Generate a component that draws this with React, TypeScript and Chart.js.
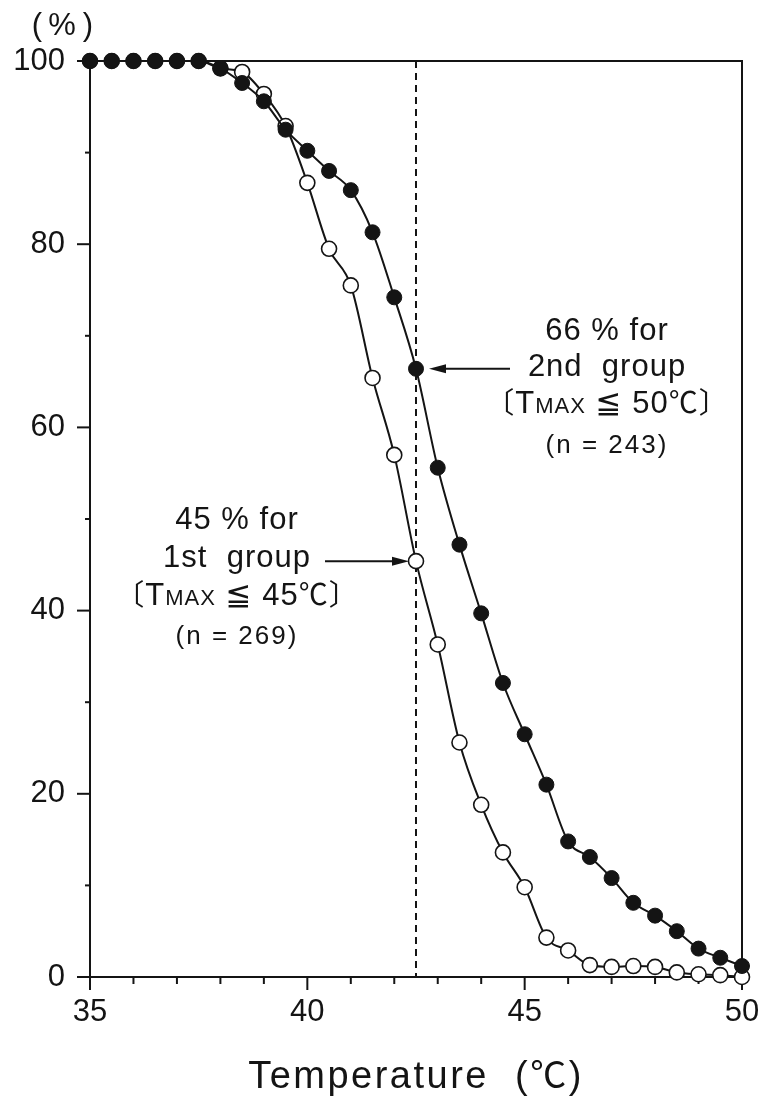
import { useEffect, useRef } from 'react';
import { Chart, registerables } from 'chart.js';

Chart.register(...registerables);

// ---- data ----
const temperatures = [
  35, 35.5, 36, 36.5, 37, 37.5, 38, 38.5, 39, 39.5, 40, 40.5, 41, 41.5, 42, 42.5,
  43, 43.5, 44, 44.5, 45, 45.5, 46, 46.5, 47, 47.5, 48, 48.5, 49, 49.5, 50,
];
const secondGroup = [
  100, 100, 100, 100, 100, 100, 99.2, 97.6, 95.6, 92.5, 90.2, 88.0, 85.9, 81.3, 74.2, 66.4,
  55.6, 47.2, 39.7, 32.1, 26.5, 21.0, 14.8, 13.1, 10.8, 8.1, 6.7, 5.0, 3.1, 2.1, 1.2,
];
const firstGroup = [
  100, 100, 100, 100, 100, 100, 99.2, 98.8, 96.4, 92.9, 86.7, 79.5, 75.5, 65.4, 57.0, 45.4,
  36.3, 25.6, 18.8, 13.6, 9.8, 4.3, 2.9, 1.3, 1.1, 1.2, 1.1, 0.5, 0.3, 0.2, 0.0,
];
const xTickLabels = ['35', '40', '45', '50'];
const yTickLabels = ['0', '20', '40', '60', '80', '100'];
const cutoffTemp = 42.5;
const secondAtCutoff = 66.4;
const firstAtCutoff = 45.4;

const FONT = '"Liberation Sans", "DejaVu Sans", "Noto Sans CJK JP", sans-serif';
const CJK = '"Noto Sans CJK JP", "Liberation Sans", sans-serif';
const INK = '#141414';

type Seg = { t: string; size: number; fam?: string };

function drawSegs(ctx: CanvasRenderingContext2D, segs: Seg[], cx: number, baseline: number, spacing = 0) {
  (ctx as any).letterSpacing = `${spacing}px`;
  let total = 0;
  const widths: number[] = [];
  for (const s of segs) {
    ctx.font = `${s.size}px ${s.fam || FONT}`;
    const w = ctx.measureText(s.t).width;
    widths.push(w);
    total += w;
  }
  let xp = cx - total / 2;
  ctx.textAlign = 'left';
  ctx.textBaseline = 'alphabetic';
  segs.forEach((s, i) => {
    ctx.font = `${s.size}px ${s.fam || FONT}`;
    ctx.fillText(s.t, xp, baseline);
    xp += widths[i];
  });
  (ctx as any).letterSpacing = '0px';
}

function arrow(ctx: CanvasRenderingContext2D, x1: number, y1: number, x2: number, y2: number) {
  const dir = Math.sign(x2 - x1);
  ctx.beginPath();
  ctx.moveTo(x1, y1);
  ctx.lineTo(x2 - dir * 10, y2);
  ctx.stroke();
  ctx.beginPath();
  ctx.moveTo(x2, y2);
  ctx.lineTo(x2 - dir * 17, y2 - 4.5);
  ctx.lineTo(x2 - dir * 17, y2 + 4.5);
  ctx.closePath();
  ctx.fill();
}

const decor = {
  id: 'decor',
  beforeDatasetsDraw(chart: any) {
    const { ctx, chartArea: a, scales } = chart;
    const x = scales.x;
    const y = scales.y;
    ctx.save();
    ctx.strokeStyle = INK;
    ctx.lineWidth = 2;
    // dashed cut-off line
    const dx = x.getPixelForValue(cutoffTemp);
    ctx.setLineDash([7, 5]);
    ctx.beginPath();
    ctx.moveTo(dx, a.top);
    ctx.lineTo(dx, a.bottom);
    ctx.stroke();
    ctx.setLineDash([]);
    // frame
    ctx.strokeRect(a.left, a.top, a.right - a.left, a.bottom - a.top);
    // x ticks
    for (const t of x.ticks) {
      const px = x.getPixelForValue(t.value);
      const major = xTickLabels.includes(String(t.value));
      ctx.beginPath();
      ctx.moveTo(px, a.bottom);
      ctx.lineTo(px, a.bottom + (major ? 13 : 7));
      ctx.stroke();
    }
    // y ticks
    for (const t of y.ticks) {
      const py = y.getPixelForValue(t.value);
      const major = yTickLabels.includes(String(t.value));
      ctx.beginPath();
      ctx.moveTo(a.left - (major ? 13 : 5), py);
      ctx.lineTo(a.left, py);
      ctx.stroke();
    }
    ctx.restore();
  },
  afterDraw(chart: any) {
    const { ctx, chartArea: a, scales } = chart;
    const x = scales.x;
    const y = scales.y;
    ctx.save();
    ctx.fillStyle = INK;
    ctx.strokeStyle = INK;
    ctx.lineWidth = 2;

    // y unit
    ctx.textAlign = 'center';
    ctx.textBaseline = 'alphabetic';
    ctx.font = `31px ${FONT}`;
    ctx.fillText('(', 37, 35);
    ctx.fillText('%', 62, 35);
    ctx.fillText(')', 88, 35);

    // x title
    const tcx = (a.left + a.right) / 2;
    drawSegs(ctx, [
      { t: 'Temperature  (', size: 38 },
      { t: '℃', size: 36, fam: CJK },
      { t: ')', size: 38 },
    ], tcx, 1088, 2.5);

    // 2nd group annotation
    const c2 = 607;
    drawSegs(ctx, [{ t: '66 % for', size: 31 }], c2, 340, 1);
    drawSegs(ctx, [{ t: '2nd  group', size: 31 }], c2, 376, 1);
    drawSegs(ctx, [
      { t: '〔', size: 29, fam: CJK },
      { t: 'T', size: 31 },
      { t: 'MAX', size: 22 },
      { t: ' ≦ 50', size: 31 },
      { t: '℃', size: 29, fam: CJK },
      { t: '〕', size: 29, fam: CJK },
    ], c2, 413, 1);
    drawSegs(ctx, [{ t: '(n = 243)', size: 26 }], c2, 453, 2);

    // 1st group annotation
    const c1 = 237;
    drawSegs(ctx, [{ t: '45 % for', size: 31 }], c1, 529, 1);
    drawSegs(ctx, [{ t: '1st  group', size: 31 }], c1, 567, 1);
    drawSegs(ctx, [
      { t: '〔', size: 29, fam: CJK },
      { t: 'T', size: 31 },
      { t: 'MAX', size: 22 },
      { t: ' ≦ 45', size: 31 },
      { t: '℃', size: 29, fam: CJK },
      { t: '〕', size: 29, fam: CJK },
    ], c1, 605, 1);
    drawSegs(ctx, [{ t: '(n = 269)', size: 26 }], c1, 644, 2);

    // arrows
    const cx = x.getPixelForValue(cutoffTemp);
    const y2 = y.getPixelForValue(secondAtCutoff);
    arrow(ctx, cx + 94, y2, cx + 13, y2);
    const y1 = y.getPixelForValue(firstAtCutoff);
    arrow(ctx, cx - 91, y1, cx - 7, y1);

    ctx.restore();
  },
};

export default function App() {
  const ref = useRef<HTMLCanvasElement | null>(null);

  useEffect(() => {
    if (!ref.current) return;
    const second = temperatures.map((t, i) => ({ x: t, y: secondGroup[i] }));
    const first = temperatures.map((t, i) => ({ x: t, y: firstGroup[i] }));
    const chart = new Chart(ref.current, {
      type: 'line',
      data: {
        datasets: [
          {
            label: '2nd group',
            data: second,
            borderColor: INK,
            borderWidth: 2,
            backgroundColor: INK,
            pointBackgroundColor: INK,
            pointBorderColor: INK,
            pointBorderWidth: 1,
            pointRadius: 7.5,
            cubicInterpolationMode: 'monotone',
            clip: false,
            order: 1,
          } as any,
          {
            label: '1st group',
            data: first,
            borderColor: INK,
            borderWidth: 2,
            backgroundColor: '#ffffff',
            pointBackgroundColor: '#ffffff',
            pointBorderColor: INK,
            pointBorderWidth: 1.6,
            pointRadius: 7.5,
            cubicInterpolationMode: 'monotone',
            clip: false,
            order: 2,
          } as any,
        ],
      },
      options: {
        responsive: false,
        animation: false,
        devicePixelRatio: 1,
        layout: { padding: { top: 61, right: 21, left: 0, bottom: 0 } },
        plugins: { legend: { display: false }, tooltip: { enabled: false } },
        scales: {
          x: {
            type: 'linear',
            min: 35,
            max: 50,
            grid: { display: false, drawTicks: false },
            border: { display: false },
            ticks: {
              stepSize: 1,
              autoSkip: false,
              maxRotation: 0,
              padding: 17,
              color: INK,
              font: { family: FONT, size: 31 },
              callback: (v: any) => (xTickLabels.includes(String(v)) ? String(v) : ''),
            },
            afterFit: (s: any) => {
              s.height = 124;
              s.paddingLeft = 0;
              s.paddingRight = 0;
            },
          },
          y: {
            type: 'linear',
            min: 0,
            max: 100,
            grid: { display: false, drawTicks: false },
            border: { display: false },
            ticks: {
              stepSize: 10,
              autoSkip: false,
              padding: 25,
              color: INK,
              font: { family: FONT, size: 31 },
              callback: (v: any) => (yTickLabels.includes(String(v)) ? String(v) : ''),
            },
            afterFit: (s: any) => {
              s.width = 90;
              s.paddingTop = 0;
              s.paddingBottom = 0;
            },
          },
        },
      },
      plugins: [decor],
    });
    return () => chart.destroy();
  }, []);

  return (
    <div style={{ position: 'absolute', left: 0, top: 0, width: 763, height: 1101, background: '#fff' }}>
      <canvas ref={ref} width={763} height={1101} style={{ width: 763, height: 1101, display: 'block' }} />
    </div>
  );
}
